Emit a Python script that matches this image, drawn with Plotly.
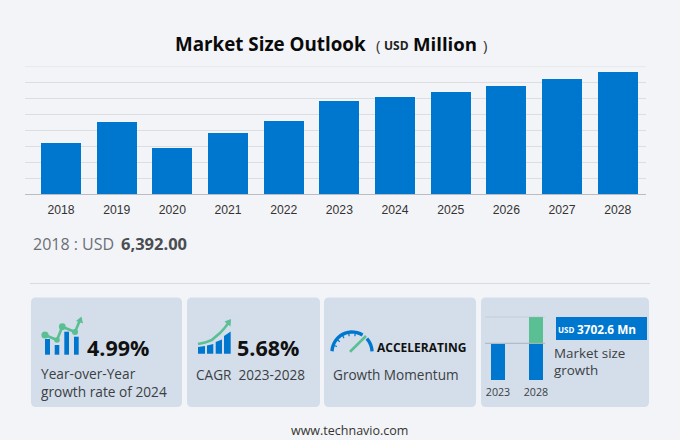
import math
import plotly.graph_objects as go

years = ["2018","2019","2020","2021","2022","2023","2024","2025","2026","2027","2028"]
market_size = [6392, 9100, 5800, 7720, 9150, 11650, 12231, 12860, 13600, 14400, 15352]
mini_years = ["2023", "2028"]
mini_base = [11650, 11650]
mini_growth = [0, 3702.6]

W, H = 680, 440
BG = "#f3f4f7"; CARD = "#d3deea"; BLUE = "#0077cf"; GREEN = "#5abf92"; DARK = "#3c4043"
def px(x): return x / W
def py(y): return 1 - y / H

fig = go.Figure()
fig.add_bar(x=years, y=market_size, width=0.72, marker_color=BLUE, marker_line_width=0, hoverinfo="x+y")
fig.add_bar(x=mini_years, y=mini_base, width=0.37, marker_color=BLUE, marker_line_width=0, xaxis="x2", yaxis="y2")
fig.add_bar(x=mini_years, y=mini_growth, width=0.37, marker_color=GREEN, marker_line_width=0, xaxis="x2", yaxis="y2")

shapes = []
def rrect(x0, y0, x1, y1, r=5, color=CARD):
    p = (f"M{px(x0+r)},{py(y0)} L{px(x1-r)},{py(y0)} Q{px(x1)},{py(y0)} {px(x1)},{py(y0+r)} "
         f"L{px(x1)},{py(y1-r)} Q{px(x1)},{py(y1)} {px(x1-r)},{py(y1)} L{px(x0+r)},{py(y1)} "
         f"Q{px(x0)},{py(y1)} {px(x0)},{py(y1-r)} L{px(x0)},{py(y0+r)} Q{px(x0)},{py(y0)} {px(x0+r)},{py(y0)} Z")
    shapes.append(dict(type="path", xref="paper", yref="paper", path=p, fillcolor=color, line_width=0, layer="below"))
def rect(x0, y0, x1, y1, color, layer="above"):
    shapes.append(dict(type="rect", xref="paper", yref="paper", x0=px(x0), x1=px(x1), y0=py(y0), y1=py(y1),
                       fillcolor=color, line_width=0, layer=layer))
def poly(pts, color=None, width=2, fill=None, close=False):
    p = "M" + " L".join(f"{px(a)},{py(b)}" for a, b in pts) + (" Z" if close else "")
    shapes.append(dict(type="path", xref="paper", yref="paper", path=p, line=dict(color=color or "rgba(0,0,0,0)", width=width),
                       fillcolor=fill or "rgba(0,0,0,0)"))
def dot(x, y, r, color):
    shapes.append(dict(type="circle", xref="paper", yref="paper", x0=px(x-r), x1=px(x+r), y0=py(y-r), y1=py(y+r),
                       fillcolor=color, line_width=0))

for c in [(31,297.5,182,407),(187,297.5,320,407),(324,297.5,476,407),(481,297.5,649,407)]:
    rrect(*c)
rect(30, 283, 650, 284, "#d9dbe0", "below")

# top gridline of the main chart
shapes.append(dict(type="line", xref="paper", yref="y", x0=px(25), x1=px(646), y0=16000, y1=16000,
                   line=dict(color="#e2e4e8", width=1), layer="below"))

# icon 1
for a, b, t in [(45,50,339),(54.7,59.3,345),(64.3,69,331.7),(74,78.7,336.7)]:
    rect(a, t, b, 354.7, BLUE)
poly([(45,335),(57,340),(62.3,326.7),(75,332),(80,320)], GREEN, 2.6)
for x, y, r in [(45,335,3.6),(57,340,2.8),(62.3,326.7,3.4),(75,332,3)]:
    dot(x, y, r, GREEN)
poly([(76,321),(81.5,316.5),(83,323.5)], fill=GREEN, width=0, close=True)

# icon 2
for a, b, t0, t1 in [(198,205,347,346),(207,213.3,345.5,344),(215.7,222,342,339.5),(224,230.7,336,331.5)]:
    poly([(a,353.7),(a,t0),(b,t1),(b,353.7)], fill=BLUE, width=0, close=True)
poly([(198,344),(205,342.6),(211.7,340),(220,333),(225,327.5),(228,323.5)], GREEN, 2.6)
poly([(224.5,321.5),(231,319),(230.5,326.5)], fill=GREEN, width=0, close=True)

# icon 3: gauge
def arc(a0, a1, n=14, cx=352, cy=352, r=20):
    return [(cx + r*math.cos(math.radians(a0+(a1-a0)*i/n)), cy - r*math.sin(math.radians(a0+(a1-a0)*i/n))) for i in range(n+1)]
poly(arc(178, 58), BLUE, 3.4)
poly(arc(42, 2, 8), BLUE, 3.4)
for a in (160, 140, 120, 100, 80):
    c, s = math.cos(math.radians(a)), math.sin(math.radians(a))
    poly([(352+16*c, 352-16*s), (352+19*c, 352-19*s)], BLUE, 1.2)
poly([(350,351.7),(366,336)], GREEN, 2.6)

# mini chart lines
for v in mini_base[:1] + [mini_base[1] + mini_growth[1]]:
    shapes.append(dict(type="line", xref="paper", yref="y2", x0=px(485), x1=px(545), y0=v, y1=v,
                       line=dict(color="#aab3be", width=1), layer="above"))
rect(556, 317, 647, 340, BLUE)

OS = "Open Sans, Noto Sans, sans-serif"
def txt(x, y, s, size, color=DARK, bold=False, anchor="left", font=OS):
    fig.add_annotation(xref="paper", yref="paper", x=px(x), y=py(y), text=f"<b>{s}</b>" if bold else s, showarrow=False,
                       xanchor=anchor, yanchor="middle", font=dict(family=font, size=size, color=color), align="left")

txt(173, 44, "Market Size Outlook", 18.8, "#0a0a0a", True)
txt(374, 45, "(", 15, "#333333")
txt(382, 45.5, "USD", 12, "#222222", True)
txt(411, 44, "Million", 18.6, "#0a0a0a", True)
txt(481, 45, ")", 15, "#333333")
txt(31, 244, "2018 : USD", 16, "#6b6f75")
txt(119, 243.5, "6,392.00", 16.5, "#4a4d52", True)
txt(85, 347, "4.99%", 21.5, "#111111", True)
txt(39, 382.5, "Year-over-Year<br>growth rate of 2024", 13.7)
txt(235, 347, "5.68%", 21.5, "#111111", True)
txt(194, 374, "CAGR  2023-2028", 13.6)
txt(375, 347, "ACCELERATING", 12, "#111111", True)
txt(331, 374, "Growth Momentum", 13.6)
txt(556, 329, "USD", 8, "#ffffff", True)
txt(575, 329, "3702.6 Mn", 11.8, "#ffffff", True)
txt(552, 361.5, "Market size<br>growth", 13.4)
txt(350, 430, "www.technavio.com", 12.5, "#333333", anchor="center")

fig.update_layout(
    width=W, height=H, autosize=False, margin=dict(l=0, r=0, t=0, b=0),
    paper_bgcolor=BG, plot_bgcolor="rgba(0,0,0,0)", showlegend=False, barmode="stack", bargap=0,
    shapes=shapes,
    xaxis=dict(domain=[px(25), px(646)], range=[-0.647, 10.508], type="category", showgrid=False, ticks="",
               showline=False, tickfont=dict(family="Liberation Sans, Arial", size=12.2, color="#333333"), ticklabelstandoff=6),
    yaxis=dict(domain=[py(194.3), py(66.2)], range=[0, 16060], tickvals=[2000*i for i in range(1, 8)], gridcolor="#dcdee3", gridwidth=1, showticklabels=False,
               zeroline=True, zerolinecolor="#b9bcc2", zerolinewidth=1, showline=False),
    xaxis2=dict(domain=[px(485), px(547)], range=[-0.342, 1.29], type="category", anchor="y2", showgrid=False, ticks="", showline=False,
                tickfont=dict(family=OS, size=10.7, color=DARK), ticklabelstandoff=4),
    yaxis2=dict(domain=[py(380), py(316.7)], range=[6540, 15352.6], anchor="x2", showgrid=False, showticklabels=False, zeroline=False, showline=False),
)
fig.write_html("out.html", post_script=f"document.body.style.margin='0';document.body.style.background='{BG}';", config={"displayModeBar": False})
